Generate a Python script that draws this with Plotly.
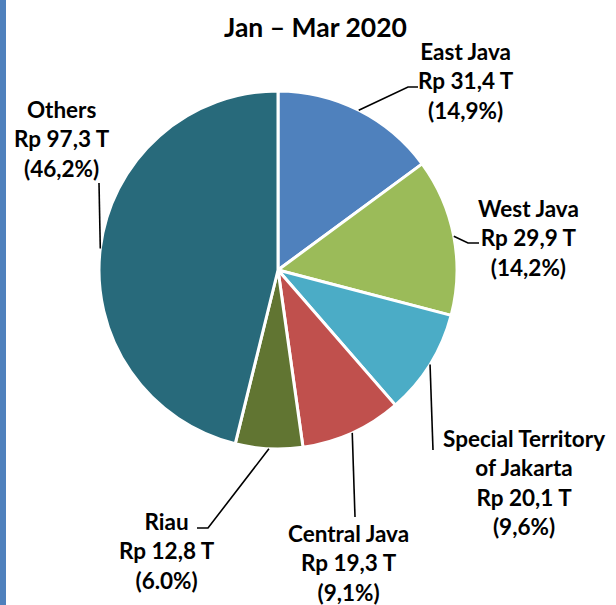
import math
import plotly.graph_objects as go

# ---- data ----
regions = ["East Java", "West Java", "Special Territory<br>of Jakarta", "Central Java", "Riau", "Others"]
values = [31.4, 29.9, 20.1, 19.3, 12.8, 97.3]
value_labels = ["Rp 31,4 T", "Rp 29,9 T", "Rp 20,1 T", "Rp 19,3 T", "Rp 12,8 T", "Rp 97,3 T"]
pct_labels = ["(14,9%)", "(14,2%)", "(9,6%)", "(9,1%)", "(6.0%)", "(46,2%)"]
colors = ["#4F81BD", "#9BBB59", "#4BACC6", "#C0504D", "#617532", "#286A7B"]
title_text = "Jan \u2013 Mar 2020"

# ---- layout (pixels) ----
W, H = 616, 605
CX, CY, R = 278, 270, 179
FONT = "Lato, 'Open Sans', sans-serif"

# label block centres and leader-line elbow/end points (pixels)
label_pos = [(466, 81), (528, 238), (524, 482), (348, 563), (167, 551), (62, 139)]
leader_pts = [
    [(408, 87), (418, 87)],
    [(468, 243), (479, 243)],
    [(433, 450)],
    [(355, 517)],
    [(208, 528), (197, 528)],
    [(99, 183)],
]


def px(x):
    return x / W


def py(y):
    return 1 - y / H


fig = go.Figure()
fig.add_trace(go.Pie(
    labels=[r.replace("<br>", " ") for r in regions],
    values=values,
    sort=False,
    direction="clockwise",
    rotation=0,
    textinfo="none",
    hoverinfo="label+value+percent",
    marker=dict(colors=colors, line=dict(color="white", width=3)),
    domain=dict(x=[px(CX - R), px(CX + R)], y=[py(CY + R), py(CY - R)]),
    showlegend=False,
))

shapes = [dict(type="rect", xref="paper", yref="paper", x0=0, x1=px(6), y0=0, y1=1,
               fillcolor="#4F81BD", line=dict(width=0), layer="below")]

total = sum(values)
cum = 0.0
annotations = []
for i, v in enumerate(values):
    mid = (cum + v / 2) / total * 2 * math.pi
    cum += v
    sx = CX + R * math.sin(mid)
    sy = CY - R * math.cos(mid)
    pts = [(sx, sy)] + leader_pts[i]
    path = "M " + " L ".join(f"{px(x):.5f},{py(y):.5f}" for x, y in pts)
    shapes.append(dict(type="path", xref="paper", yref="paper", path=path,
                       line=dict(color="black", width=1.6)))
    lx, ly = label_pos[i]
    annotations.append(dict(
        x=px(lx), y=py(ly), xref="paper", yref="paper", xanchor="center", yanchor="middle",
        text=f"<b>{regions[i]}<br>{value_labels[i]}<br>{pct_labels[i]}</b>",
        showarrow=False, align="center",
        font=dict(family=FONT, size=22.5, color="black"),
    ))

annotations.append(dict(
    x=px(315), y=py(27), xref="paper", yref="paper", xanchor="center", yanchor="middle",
    text=f"<b>{title_text}</b>", showarrow=False,
    font=dict(family=FONT, size=26.5, color="black"),
))

fig.update_layout(
    width=W, height=H,
    margin=dict(l=0, r=0, t=0, b=0),
    paper_bgcolor="white", plot_bgcolor="white",
    shapes=shapes, annotations=annotations,
)
fig.write_html("out.html",
               config={"displayModeBar": False},
               post_script="document.body.style.margin='0';document.body.style.overflow='hidden';")
